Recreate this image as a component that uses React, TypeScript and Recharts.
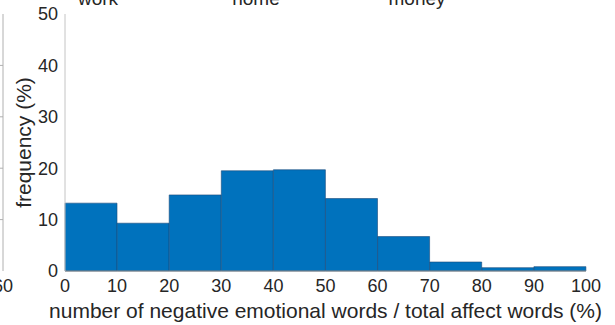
import { BarChart, Bar, XAxis, YAxis } from 'recharts'

// histogram bins (percent of negative emotional words) and their frequencies
const binLabels = ['0-10', '10-20', '20-30', '30-40', '40-50', '50-60', '60-70', '70-80', '80-90', '90-100']
const binMids = [5, 15, 25, 35, 45, 55, 65, 75, 85, 95]
const frequency = [13.2, 9.3, 14.8, 19.5, 19.7, 14.1, 6.7, 1.75, 0.65, 0.85]

const xTicks = [0, 10, 20, 30, 40, 50, 60, 70, 80, 90, 100]
const yTicks = [0, 10, 20, 30, 40, 50]

// titles of the neighbouring panels, clipped by the top edge
const panelTitles = [
  { text: 'work', x: 98 },
  { text: 'home', x: 256 },
  { text: 'money', x: 417 },
]

const W = 615
const H = 325
const FONT = '"Liberation Sans", Arial, Helvetica, sans-serif'
const TEXT = '#262626'
const BAR = '#0072BD'

const chartData = binLabels.map((bin, i) => ({ bin, mid: binMids[i], freq: frequency[i] }))

export default function App() {
  return (
    <div style={{ position: 'absolute', left: 0, top: 0, width: W, height: H, background: '#fff' }}>
      <BarChart
        width={W}
        height={H}
        data={chartData}
        margin={{ top: 14, right: 29, bottom: 0, left: 0 }}
        barCategoryGap={0}
        style={{ fontFamily: FONT }}
      >
        <XAxis xAxisId="bins" dataKey="bin" hide height={0} />
        <XAxis
          xAxisId="num"
          type="number"
          dataKey="mid"
          domain={[0, 100]}
          ticks={xTicks}
          allowDataOverflow
          height={54}
          tickSize={0}
          tickMargin={8}
          tickLine={false}
          axisLine={{ stroke: '#8a8a8a' }}
          tick={{ fill: TEXT, fontSize: 18 }}
          label={{
            value: 'number of negative emotional words / total affect words (%)',
            position: 'insideBottom',
            offset: 7,
            fill: TEXT,
            fontSize: 21,
          }}
        />
        {/* inward tick marks, MATLAB style */}
        <XAxis
          xAxisId="numIn"
          type="number"
          dataKey="mid"
          domain={[0, 100]}
          ticks={xTicks}
          allowDataOverflow
          mirror
          height={0}
          tick={false}
          tickSize={5}
          axisLine={false}
          tickLine={{ stroke: '#a0a0a0' }}
        />
        <XAxis
          xAxisId="top"
          orientation="top"
          type="number"
          dataKey="mid"
          domain={[0, 100]}
          ticks={xTicks}
          allowDataOverflow
          mirror
          height={0}
          tick={false}
          tickSize={4}
          axisLine={{ stroke: '#c4c4c4' }}
          tickLine={{ stroke: '#c4c4c4' }}
        />
        <YAxis
          yAxisId="left"
          domain={[0, 50]}
          ticks={yTicks}
          width={65}
          tickSize={0}
          tickMargin={7}
          tickLine={false}
          axisLine={{ stroke: '#c4c4c4' }}
          tick={{ fill: TEXT, fontSize: 18 }}
          label={{
            value: 'frequency (%)',
            angle: -90,
            position: 'insideLeft',
            offset: 24,
            fill: TEXT,
            fontSize: 21,
            style: { textAnchor: 'middle' },
          }}
        />
        <YAxis
          yAxisId="leftIn"
          domain={[0, 50]}
          ticks={yTicks}
          mirror
          width={0}
          tick={false}
          tickSize={5}
          axisLine={false}
          tickLine={{ stroke: '#b0b0b0' }}
        />
        <YAxis
          yAxisId="right"
          orientation="right"
          domain={[0, 50]}
          ticks={yTicks}
          mirror
          width={0}
          tick={false}
          tickSize={5}
          axisLine={{ stroke: '#9a9a9a' }}
          tickLine={{ stroke: '#9a9a9a' }}
        />
        <Bar
          xAxisId="bins"
          yAxisId="left"
          dataKey="freq"
          fill={BAR}
          stroke="#1a4a7a"
          strokeWidth={0.6}
          isAnimationActive={false}
        />
      </BarChart>

      {/* edges of the neighbouring panels */}
      <svg
        width={W}
        height={H}
        style={{ position: 'absolute', left: 0, top: 0, pointerEvents: 'none', fontFamily: FONT }}
      >
        {panelTitles.map((t) => (
          <text key={t.text} x={t.x} y={4.5} textAnchor="middle" fontSize={19} fill={TEXT}>
            {t.text}
          </text>
        ))}
        <line x1={3} x2={3} y1={14} y2={271} stroke="#b0b0b0" />
        {yTicks.slice(1, -1).map((v) => (
          <line key={v} x1={0} x2={3} y1={271 - (v * 257) / 50} y2={271 - (v * 257) / 50} stroke="#b0b0b0" />
        ))}
        <text x={3} y={292} textAnchor="middle" fontSize={18} fill={TEXT}>
          60
        </text>
      </svg>
    </div>
  )
}
